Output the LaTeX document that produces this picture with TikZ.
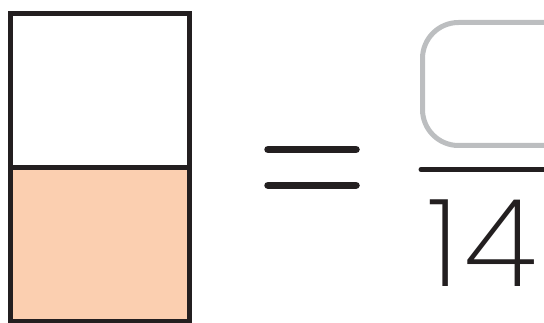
\documentclass[tikz,border=0pt]{standalone}
\usepackage{fontspec}
\newfontfamily\numfont[LetterSpace=4]{Poppins ExtraLight}
\definecolor{peach}{HTML}{FBCFB0}
\definecolor{boxgray}{HTML}{BCBEC0}
\definecolor{ink}{HTML}{231F20}
\begin{document}
\begin{tikzpicture}[x=1pt,y=-1pt,
  cell/.style={draw=ink,line width=4.8pt},
  bar/.style={draw=ink,line width=7.5pt,line cap=round},
  answer/.style={draw=boxgray,line width=5pt,rounded corners=36pt}]
\useasboundingbox (0,0) rectangle (544,323);
\path[fill=white] (10.3,13.5) rectangle (189.5,167.5);
\path[fill=peach] (10.3,167.5) rectangle (189.5,321);
\draw[cell] (10.3,13.5) rectangle (189.5,167.5);
\draw[cell] (10.3,167.5) rectangle (189.5,321);
\coordinate (e1a) at (268,149.5); \coordinate (e1b) at (356,149.5);
\coordinate (e2a) at (268,185.3); \coordinate (e2b) at (356,185.3);
\draw[bar] (e1a) -- (e1b);
\draw[bar] (e2a) -- (e2b);
\begin{scope}
\clip (0,0) rectangle (544,323);
\draw[answer] (422.5,22.5) rectangle (600,145.5);
\coordinate (fa) at (421,169.5); \coordinate (fb) at (560,169.5);
\draw[draw=ink,line width=5pt,line cap=round] (fa) -- (fb);
\end{scope}
\node[text=ink,inner sep=0pt,text depth=0pt,anchor=base] (den) at (482,287) {\numfont\fontsize{122}{122}\selectfont 14};
\end{tikzpicture}
\end{document}
